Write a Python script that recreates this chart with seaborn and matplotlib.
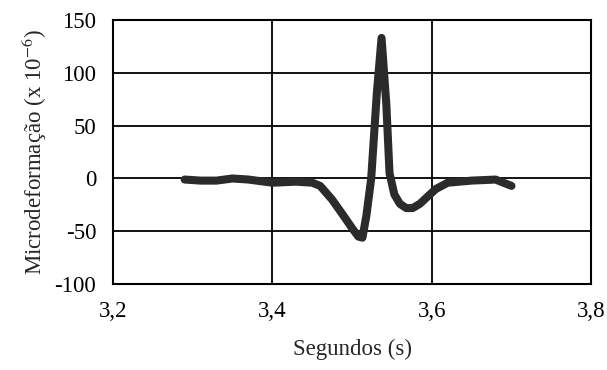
import matplotlib
matplotlib.use("Agg")
import matplotlib.pyplot as plt
import seaborn as sns
import pandas as pd

# Data
tempo = [3.29, 3.31, 3.33, 3.35, 3.37, 3.40, 3.43, 3.45, 3.46, 3.475, 3.49,
         3.50, 3.508, 3.513, 3.518, 3.524, 3.531, 3.537, 3.543, 3.547,
         3.553, 3.56, 3.568, 3.576, 3.585, 3.595, 3.605, 3.62, 3.65, 3.68, 3.70]
micro = [-1, -2, -2, 0, -1, -4, -3, -4, -7, -20, -36,
         -47, -55, -56, -35, 0, 80, 133, 70, 5,
         -15, -24, -28, -28, -24, -17, -10, -4, -2, -1, -7]

xticks = [3.2, 3.4, 3.6, 3.8]
xtick_labels = ["3,2", "3,4", "3,6", "3,8"]
yticks = [-100, -50, 0, 50, 100, 150]
ytick_labels = ["-100", "-50", "0", "50", "100", "150"]

df = pd.DataFrame({"t": tempo, "y": micro})

sns.set_style("white")
plt.rcParams["font.family"] = ["Liberation Serif", "DejaVu Serif"]
plt.rcParams["mathtext.fontset"] = "stix"

fig = plt.figure(figsize=(6.07, 3.70), dpi=100)
ax = fig.add_axes([0.186, 0.232, 0.788, 0.714])

ax.set_xlim(3.2, 3.8)
ax.set_ylim(-100, 150)
ax.set_xticks(xticks)
ax.set_xticklabels(xtick_labels)
ax.set_yticks(yticks)
ax.set_yticklabels(ytick_labels)

for v in yticks[1:-1]:
    ax.axhline(v, color="black", lw=1.3, zorder=1)
for v in xticks[1:-1]:
    ax.axvline(v, color="black", lw=1.3, zorder=1)

sns.lineplot(data=df, x="t", y="y", ax=ax, color="#2b2b2b", lw=5.8,
             sort=False, zorder=3, solid_joinstyle="round",
             solid_capstyle="round")

for s in ax.spines.values():
    s.set_color("black")
    s.set_linewidth(1.5)

fs = 16.5
ax.tick_params(axis="both", length=0, labelsize=fs, colors="black")
ax.tick_params(axis="x", pad=12)
ax.tick_params(axis="y", pad=12)

ax.set_xlabel("Segundos (s)", fontsize=fs, labelpad=12)
ax.set_ylabel(r"Microdeformação (x 10$^{-6}$)", fontsize=fs, labelpad=4)

fig.savefig("out.png", dpi=100)
